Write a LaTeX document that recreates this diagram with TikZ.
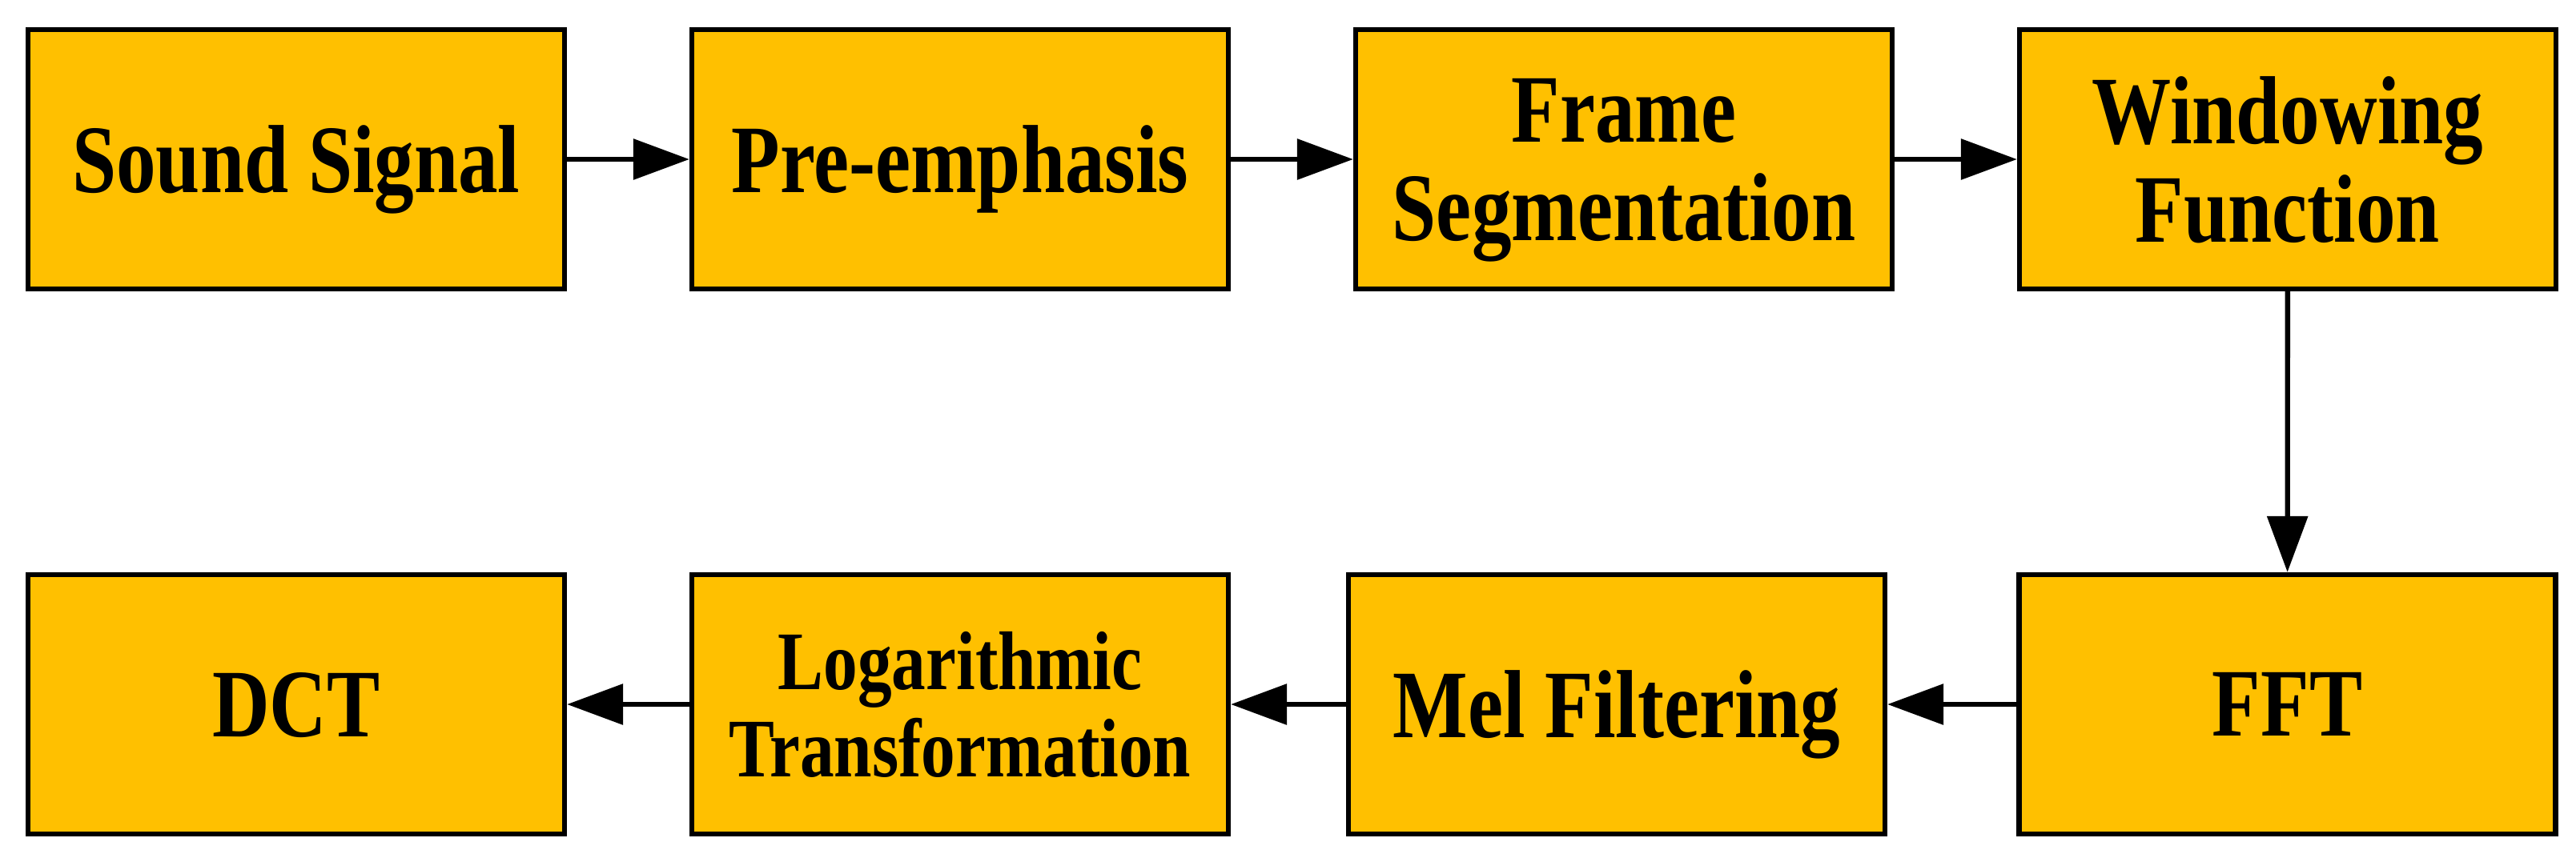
\documentclass[tikz,border=0pt]{standalone}
\usepackage{fontspec}
\setmainfont[FakeStretch=0.82]{Liberation Serif}
\usepackage{tikz}
\usetikzlibrary{arrows.meta,positioning}
\definecolor{boxgold}{RGB}{255,192,0}
\def\colsep{8.29}

\begin{document}
\begin{tikzpicture}[line width=1.8pt, >={Triangle[length=0.7cm,width=0.5cm]}]
            \tikzstyle{block}=[draw=black, fill=boxgold, minimum width=6.7cm, minimum height=3.24cm, inner sep=0pt, text depth=0pt, align=center, font=\bfseries\fontsize{34.4}{35}\selectfont]
            \tikzstyle{smallblock}=[block, font=\bfseries\fontsize{29.6}{31}\selectfont]
            \tikzstyle{flow}=[->]

            \useasboundingbox (0,0) rectangle (32.17,-10.76);

            % Draw the upper row of steps
            \foreach \name / \x in {Sound Signal/1, Pre-emphasis/2, Frame\\Segmentation/3, Windowing\\Function/4}
                \node[block] (T-\x) at ({3.70+\colsep*(\x-1)},-1.99) {\name};

            % Draw the lower row of steps
            \foreach \name / \x / \pos / \kind in {DCT/1/3.70/block, Logarithmic\\Transformation/2/11.99/smallblock, Mel Filtering/3/20.19/block, FFT/4/28.565/block}
                \node[\kind] (B-\x) at (\pos,-8.80) {\name};

            % Connect the upper row from left to right
            \foreach \source / \dest in {1/2, 2/3, 3/4}
                \draw[flow] (T-\source) -- (T-\dest);

            \draw[flow] (T-4) -- (B-4);

            % Connect the lower row from right to left
            \foreach \source / \dest in {4/3, 3/2, 2/1}
                \draw[flow] (B-\source) -- (B-\dest);

        \end{tikzpicture}
\end{document}
